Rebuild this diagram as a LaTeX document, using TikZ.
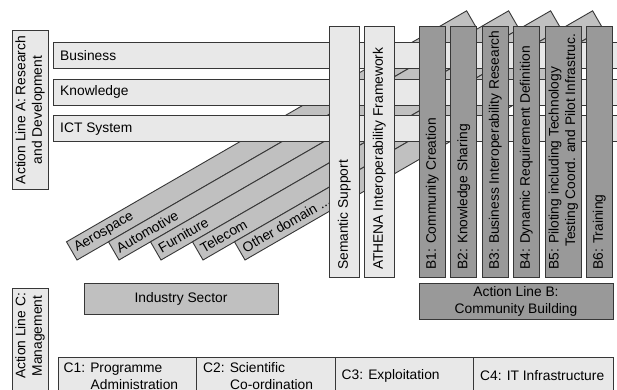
\documentclass[tikz,border=0pt]{standalone}
\usepackage{fontspec}
\setmainfont{Liberation Sans}
\definecolor{edge}{RGB}{55,55,55}
\definecolor{lightfill}{RGB}{232,232,232}
\definecolor{midfill}{RGB}{192,192,192}
\definecolor{darkfill}{RGB}{153,153,153}
\begin{document}
\begin{tikzpicture}[x=1pt,y=1pt,
  every node/.style={font=\fontsize{13.8}{16.5}\selectfont, inner sep=0pt, text=black},
  lightbox/.style={draw=edge, line width=0.9pt, fill=lightfill},
  midbox/.style={draw=edge, line width=0.9pt, fill=midfill},
  darkbox/.style={draw=edge, line width=0.9pt, fill=darkfill},
  coltext/.style={rotate=90, anchor=west},
  celltext/.style={anchor=west, align=left}]
\useasboundingbox (0,0) rectangle (617,389);
\clip (0,0) rectangle (617,389);

% industry sector bands, running behind everything else
\foreach \x/\len/\name/\lab in {77/462/aero/Aerospace, 119/462/auto/Automotive,
    161/462/furn/Furniture, 203/462/tele/Telecom, 245/416/other/{Other domain ...}} {
  \begin{scope}[shift={(\x,129)}, rotate=30]
    \draw[midbox] (0,0) rectangle (\len,21);
    \node[anchor=west, rotate=30] (\name) at (4,10.5) {\lab};
  \end{scope}
}

% research layers
\draw[lightbox] (53,320.7) rectangle (640,346.3);
\node[anchor=west] (business) at (60,333.5) {Business};
\draw[lightbox] (53,284) rectangle (640,310);
\node[anchor=west] (knowledge) at (60,297) {Knowledge};
\draw[lightbox] (53,247.3) rectangle (640,273.3);
\node[anchor=west] (ict) at (60,260.3) {ICT System};

% cross-cutting columns
\draw[lightbox] (329.3,112) rectangle (359.3,362.5);
\node[coltext] (semantic) at (344.3,119) {Semantic Support};
\draw[lightbox] (364.3,112) rectangle (394,362.5);
\node[coltext] (athena) at (379.2,119) {ATHENA Interoperability Framework};

% community building work packages
\draw[darkbox] (419,112) rectangle (445.7,362.5);
\node[coltext] (b1) at (432.4,119) {B1: Community Creation};
\draw[darkbox] (450.7,112) rectangle (476.7,362.5);
\node[coltext] (b2) at (463.7,119) {B2: Knowledge Sharing};
\draw[darkbox] (482.3,112) rectangle (508.3,362.5);
\node[coltext] (b3) at (495.3,119) {B3: Business Interoperability Research};
\draw[darkbox] (513.3,112) rectangle (539.3,362.5);
\node[coltext] (b4) at (526.3,119) {B4: Dynamic Requirement Definition};
\draw[darkbox] (545,112) rectangle (581.7,362.5);
\node[coltext, align=left] (b5) at (563.4,119)
  {B5: Piloting including Technology\\\hspace*{23pt}Testing Coord. and Pilot Infrastruc.};
\draw[darkbox] (586,112) rectangle (612.3,362.5);
\node[coltext] (b6) at (599.2,119) {B6: Training};

% action line labels
\draw[lightbox] (12,200) rectangle (48,358.3);
\node[rotate=90, align=center] (alA) at (30,279) {Action Line A: Research\\and Development};
\draw[midbox] (84,75) rectangle (278,106);
\node (industry) at (181,90.5) {Industry Sector};
\draw[darkbox] (419,69.5) rectangle (613,106);
\node[align=center] (alB) at (516,87.8) {Action Line B:\\Community Building};
\draw[lightbox] (12,-10) rectangle (48,101);
\node[rotate=90, align=center] (alC) at (30,53) {Action Line C:\\Management};

% management work packages
\draw[lightbox] (58,-8) rectangle (196,32);
\node[celltext] (c1) at (63.5,13) {C1: Programme\\\hspace*{27pt}Administration};
\draw[lightbox] (196,-8) rectangle (335,32);
\node[celltext] (c2) at (203,13) {C2: Scientific\\\hspace*{27pt}Co-ordination};
\draw[lightbox] (335,-8) rectangle (473,32);
\node[celltext] (c3) at (341.5,13) {C3: Exploitation};
\draw[lightbox] (473,-8) rectangle (613,32);
\node[celltext] (c4) at (480,13) {C4: IT Infrastructure};
\end{tikzpicture}
\end{document}
